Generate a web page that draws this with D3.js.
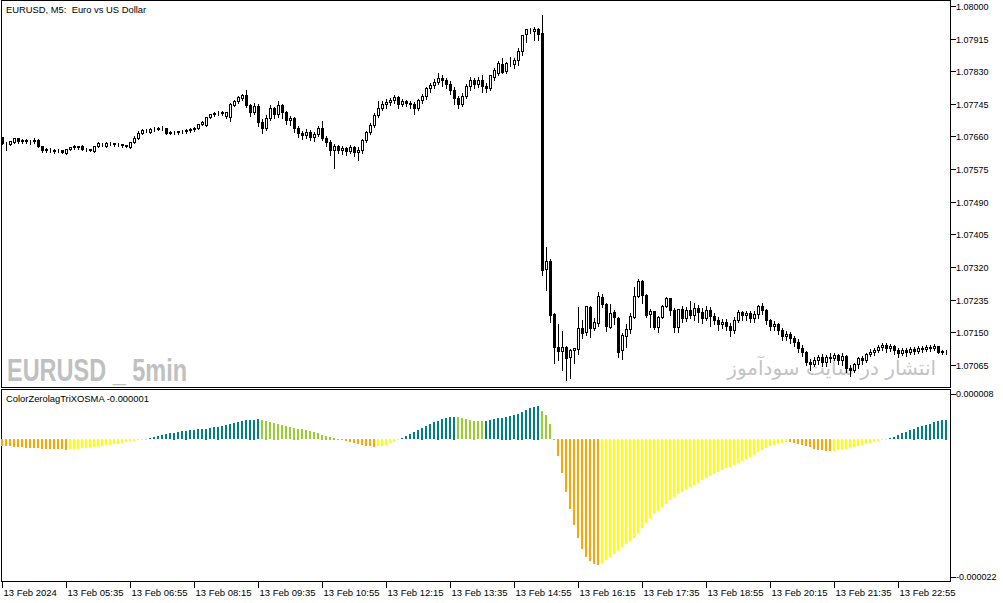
<!DOCTYPE html>
<html><head><meta charset="utf-8">
<script src="https://cdn.jsdelivr.net/npm/d3@7"></script>
<style>html,body{margin:0;padding:0;background:#fff;}svg{display:block;}</style>
</head><body>
<svg id="chart" width="1003" height="603"></svg>
<script>
// ---------------- DATA ----------------
const chartTitle = "EURUSD, M5:  Euro vs US Dollar";
const indicatorTitle = "ColorZerolagTriXOSMA -0.000001";
const watermarkLeft = "EURUSD _ 5min";
const watermarkRight = "انتشار در سایت سودآموز";
const xTickIndex = [0,16,32,48,64,80,96,112,128,144,160,176,192,208,224];
const xTickLabels = ["13 Feb 2024","13 Feb 05:35","13 Feb 06:55","13 Feb 08:15","13 Feb 09:35","13 Feb 10:55","13 Feb 12:15","13 Feb 13:35","13 Feb 14:55","13 Feb 16:15","13 Feb 17:35","13 Feb 18:55","13 Feb 20:15","13 Feb 21:35","13 Feb 22:55"];
const priceTicks = [1.08000,1.07915,1.07830,1.07745,1.07660,1.07575,1.07490,1.07405,1.07320,1.07235,1.07150,1.07065];
const indTickLabels = ["0.000008","-0.000022"];

const open = [
1.07659,1.07646,1.07641,1.07646,1.07656,1.07648,1.07651,1.07648,1.07648,1.07651,
1.07635,1.07628,1.07625,1.07622,1.07625,1.07625,1.07617,1.07628,1.07633,1.07634,
1.07635,1.07628,1.07628,1.07622,1.07635,1.07641,1.07635,1.07643,1.07642,1.07641,
1.07641,1.07638,1.07633,1.07646,1.07656,1.07669,1.07677,1.07672,1.07680,1.07680,
1.07682,1.07682,1.07669,1.07672,1.07672,1.07673,1.07674,1.07677,1.07680,1.07682,
1.07693,1.07690,1.07711,1.07719,1.07721,1.07721,1.07714,1.07711,1.07742,1.07753,
1.07760,1.07768,1.07742,1.07724,1.07740,1.07698,1.07682,1.07708,1.07734,1.07719,
1.07742,1.07724,1.07703,1.07708,1.07682,1.07669,1.07664,1.07672,1.07659,1.07667,
1.07682,1.07656,1.07646,1.07625,1.07635,1.07625,1.07630,1.07622,1.07633,1.07620,
1.07625,1.07651,1.07672,1.07690,1.07716,1.07734,1.07745,1.07750,1.07755,1.07763,
1.07745,1.07753,1.07747,1.07745,1.07734,1.07755,1.07766,1.07787,1.07794,1.07802,
1.07813,1.07807,1.07797,1.07781,1.07760,1.07745,1.07766,1.07792,1.07807,1.07797,
1.07807,1.07792,1.07787,1.07815,1.07826,1.07849,1.07831,1.07852,1.07849,1.07859,
1.07883,1.07927,1.07935,1.07935,1.07940,1.07930,1.07315,1.07336,1.07198,1.07112,
1.07102,1.07112,1.07086,1.07104,1.07107,1.07162,1.07151,1.07216,1.07162,1.07175,
1.07242,1.07224,1.07164,1.07203,1.07188,1.07104,1.07141,1.07159,1.07190,1.07245,
1.07284,1.07247,1.07198,1.07206,1.07164,1.07190,1.07219,1.07240,1.07208,1.07164,
1.07211,1.07188,1.07208,1.07195,1.07214,1.07203,1.07188,1.07208,1.07193,1.07182,
1.07172,1.07177,1.07167,1.07156,1.07182,1.07203,1.07195,1.07200,1.07188,1.07198,
1.07219,1.07208,1.07182,1.07167,1.07172,1.07156,1.07141,1.07146,1.07135,1.07125,
1.07109,1.07099,1.07073,1.07068,1.07078,1.07086,1.07073,1.07086,1.07083,1.07091,
1.07078,1.07089,1.07057,1.07052,1.07068,1.07083,1.07078,1.07094,1.07099,1.07104,
1.07112,1.07117,1.07109,1.07115,1.07104,1.07096,1.07104,1.07099,1.07107,1.07102,
1.07109,1.07107,1.07112,1.07109,1.07115,1.07098,1.07101];

const high = [
1.07661,1.07648,1.07651,1.07659,1.07659,1.07656,1.07656,1.07654,1.07659,1.07656,
1.07638,1.07633,1.07633,1.07630,1.07630,1.07628,1.07630,1.07635,1.07641,1.07638,
1.07641,1.07633,1.07630,1.07638,1.07648,1.07646,1.07648,1.07648,1.07646,1.07646,
1.07643,1.07641,1.07648,1.07664,1.07677,1.07682,1.07682,1.07685,1.07688,1.07688,
1.07690,1.07685,1.07677,1.07677,1.07677,1.07680,1.07682,1.07685,1.07688,1.07695,
1.07703,1.07714,1.07721,1.07727,1.07729,1.07729,1.07727,1.07750,1.07758,1.07768,
1.07773,1.07784,1.07747,1.07750,1.07747,1.07708,1.07719,1.07745,1.07740,1.07755,
1.07747,1.07729,1.07716,1.07714,1.07690,1.07677,1.07682,1.07680,1.07674,1.07690,
1.07703,1.07664,1.07654,1.07643,1.07641,1.07638,1.07635,1.07641,1.07638,1.07635,
1.07656,1.07677,1.07698,1.07724,1.07755,1.07755,1.07760,1.07763,1.07771,1.07768,
1.07760,1.07758,1.07755,1.07753,1.07760,1.07773,1.07792,1.07802,1.07813,1.07828,
1.07823,1.07815,1.07807,1.07792,1.07768,1.07776,1.07800,1.07818,1.07815,1.07818,
1.07823,1.07802,1.07823,1.07841,1.07859,1.07867,1.07857,1.07870,1.07867,1.07893,
1.07927,1.07943,1.07945,1.07948,1.07945,1.07979,1.07375,1.07344,1.07203,1.07175,
1.07156,1.07117,1.07109,1.07112,1.07219,1.07185,1.07221,1.07221,1.07190,1.07258,
1.07253,1.07229,1.07227,1.07211,1.07193,1.07151,1.07175,1.07203,1.07271,1.07292,
1.07289,1.07253,1.07214,1.07208,1.07195,1.07224,1.07245,1.07242,1.07216,1.07214,
1.07221,1.07219,1.07234,1.07229,1.07224,1.07216,1.07221,1.07219,1.07203,1.07193,
1.07188,1.07188,1.07177,1.07193,1.07211,1.07208,1.07208,1.07208,1.07208,1.07224,
1.07229,1.07214,1.07188,1.07182,1.07177,1.07164,1.07156,1.07154,1.07143,1.07135,
1.07120,1.07104,1.07083,1.07089,1.07094,1.07096,1.07094,1.07099,1.07099,1.07096,
1.07099,1.07094,1.07068,1.07073,1.07089,1.07091,1.07099,1.07109,1.07112,1.07120,
1.07125,1.07125,1.07122,1.07120,1.07112,1.07112,1.07112,1.07115,1.07115,1.07117,
1.07117,1.07120,1.07120,1.07122,1.07117,1.07106,1.07106];

const low = [
1.07641,1.07625,1.07638,1.07643,1.07643,1.07643,1.07643,1.07641,1.07643,1.07633,
1.07620,1.07620,1.07620,1.07617,1.07620,1.07617,1.07615,1.07625,1.07628,1.07628,
1.07625,1.07622,1.07622,1.07620,1.07633,1.07635,1.07633,1.07638,1.07635,1.07635,
1.07633,1.07633,1.07630,1.07643,1.07654,1.07667,1.07672,1.07669,1.07674,1.07677,
1.07677,1.07667,1.07667,1.07667,1.07667,1.07669,1.07669,1.07672,1.07674,1.07680,
1.07690,1.07688,1.07708,1.07714,1.07716,1.07716,1.07708,1.07701,1.07740,1.07747,
1.07755,1.07737,1.07714,1.07719,1.07688,1.07669,1.07677,1.07703,1.07708,1.07711,
1.07708,1.07693,1.07690,1.07672,1.07659,1.07654,1.07656,1.07651,1.07648,1.07661,
1.07651,1.07635,1.07612,1.07578,1.07617,1.07615,1.07612,1.07617,1.07609,1.07599,
1.07617,1.07646,1.07667,1.07685,1.07711,1.07729,1.07734,1.07742,1.07747,1.07734,
1.07740,1.07740,1.07734,1.07719,1.07729,1.07747,1.07758,1.07776,1.07787,1.07797,
1.07792,1.07787,1.07771,1.07745,1.07734,1.07740,1.07760,1.07781,1.07787,1.07789,
1.07776,1.07776,1.07781,1.07807,1.07820,1.07826,1.07826,1.07844,1.07839,1.07846,
1.07872,1.07906,1.07930,1.07911,1.07911,1.07300,1.07260,1.07177,1.07070,1.07078,
1.07052,1.07026,1.07031,1.07070,1.07094,1.07135,1.07143,1.07138,1.07156,1.07167,
1.07216,1.07154,1.07162,1.07172,1.07086,1.07081,1.07112,1.07148,1.07188,1.07242,
1.07227,1.07190,1.07164,1.07159,1.07151,1.07188,1.07216,1.07195,1.07151,1.07151,
1.07177,1.07180,1.07188,1.07182,1.07177,1.07175,1.07182,1.07167,1.07172,1.07156,
1.07162,1.07156,1.07141,1.07148,1.07177,1.07182,1.07182,1.07177,1.07177,1.07188,
1.07198,1.07172,1.07156,1.07156,1.07146,1.07130,1.07130,1.07122,1.07115,1.07099,
1.07089,1.07065,1.07052,1.07063,1.07068,1.07063,1.07063,1.07073,1.07078,1.07068,
1.07065,1.07047,1.07037,1.07047,1.07057,1.07068,1.07073,1.07089,1.07091,1.07099,
1.07104,1.07099,1.07102,1.07094,1.07086,1.07091,1.07089,1.07094,1.07094,1.07096,
1.07099,1.07102,1.07102,1.07104,1.07096,1.07093,1.07093];

const close = [
1.07643,1.07645,1.07648,1.07656,1.07648,1.07651,1.07648,1.07647,1.07651,1.07635,
1.07625,1.07625,1.07626,1.07626,1.07625,1.07620,1.07628,1.07633,1.07634,1.07633,
1.07628,1.07628,1.07625,1.07635,1.07642,1.07641,1.07643,1.07642,1.07641,1.07641,
1.07638,1.07635,1.07646,1.07656,1.07669,1.07677,1.07676,1.07680,1.07680,1.07682,
1.07681,1.07669,1.07672,1.07672,1.07673,1.07674,1.07677,1.07680,1.07682,1.07693,
1.07698,1.07711,1.07719,1.07721,1.07721,1.07724,1.07724,1.07745,1.07753,1.07763,
1.07768,1.07742,1.07724,1.07740,1.07698,1.07682,1.07708,1.07734,1.07719,1.07742,
1.07724,1.07703,1.07708,1.07682,1.07669,1.07664,1.07672,1.07659,1.07667,1.07682,
1.07656,1.07646,1.07625,1.07635,1.07625,1.07630,1.07622,1.07633,1.07620,1.07625,
1.07651,1.07672,1.07690,1.07716,1.07734,1.07745,1.07750,1.07755,1.07763,1.07745,
1.07753,1.07747,1.07745,1.07734,1.07755,1.07766,1.07787,1.07794,1.07802,1.07813,
1.07807,1.07797,1.07781,1.07760,1.07745,1.07766,1.07792,1.07807,1.07797,1.07807,
1.07792,1.07787,1.07820,1.07833,1.07852,1.07828,1.07852,1.07852,1.07859,1.07883,
1.07925,1.07940,1.07935,1.07940,1.07927,1.07313,1.07336,1.07195,1.07112,1.07102,
1.07112,1.07083,1.07104,1.07109,1.07162,1.07148,1.07219,1.07162,1.07177,1.07245,
1.07224,1.07167,1.07200,1.07190,1.07099,1.07143,1.07159,1.07193,1.07245,1.07284,
1.07247,1.07195,1.07206,1.07164,1.07190,1.07219,1.07240,1.07208,1.07164,1.07211,
1.07188,1.07208,1.07195,1.07214,1.07203,1.07188,1.07208,1.07193,1.07182,1.07172,
1.07177,1.07167,1.07156,1.07182,1.07203,1.07195,1.07200,1.07188,1.07198,1.07219,
1.07208,1.07182,1.07167,1.07172,1.07156,1.07141,1.07146,1.07135,1.07125,1.07109,
1.07099,1.07073,1.07068,1.07078,1.07086,1.07073,1.07086,1.07083,1.07091,1.07078,
1.07089,1.07057,1.07052,1.07068,1.07083,1.07078,1.07094,1.07099,1.07104,1.07112,
1.07117,1.07109,1.07115,1.07104,1.07096,1.07104,1.07099,1.07107,1.07102,1.07109,
1.07107,1.07112,1.07109,1.07115,1.07098,1.07101,1.07100];

// ColorZerolagTriXOSMA histogram, in millionths (x 0.000001)
const osmaMicro = [
-1.10,-1.15,-1.20,-1.25,-1.30,-1.35,-1.40,-1.45,-1.50,-1.55,
-1.60,-1.63,-1.66,-1.68,-1.70,-1.71,-1.72,-1.70,-1.65,-1.60,
-1.55,-1.48,-1.40,-1.32,-1.24,-1.15,-1.05,-0.95,-0.85,-0.74,
-0.63,-0.52,-0.40,-0.28,-0.17,-0.08,-0.02,0.22,0.33,0.54,
0.71,0.82,0.98,1.09,1.20,1.31,1.42,1.47,1.52,1.63,
1.69,1.74,1.85,1.96,2.07,2.18,2.29,2.45,2.61,2.83,
3.00,3.10,3.19,3.22,3.24,3.16,3.05,2.83,2.72,2.56,
2.29,2.18,2.01,1.90,1.74,1.60,1.45,1.30,1.12,0.95,
0.78,0.60,0.42,0.25,0.08,-0.10,-0.30,-0.50,-0.70,-0.88,
-1.02,-1.12,-1.20,-1.25,-1.22,-1.12,-0.95,-0.72,-0.45,-0.15,
0.15,0.50,0.85,1.20,1.55,1.90,2.20,2.50,2.80,3.05,
3.30,3.50,3.62,3.68,3.60,3.45,3.30,3.15,3.05,2.98,
2.95,3.00,3.10,3.25,3.40,3.55,3.70,3.85,4.00,4.20,
4.50,4.80,5.10,5.35,5.50,4.60,3.90,2.50,0.08,-2.70,
-5.60,-8.70,-11.40,-14.10,-16.20,-18.00,-19.20,-20.00,-20.45,-20.55,
-20.26,-19.84,-19.28,-18.79,-18.30,-17.71,-17.22,-16.73,-16.24,-15.42,
-14.60,-13.79,-13.07,-12.32,-11.83,-11.18,-10.69,-10.03,-9.54,-9.05,
-8.73,-8.17,-7.91,-7.52,-7.14,-6.70,-6.44,-6.11,-5.78,-5.46,
-5.13,-4.80,-4.53,-4.25,-3.92,-3.60,-3.25,-2.90,-2.55,-2.20,
-1.85,-1.50,-1.20,-0.95,-0.75,-0.60,-0.50,-0.55,-0.65,-0.80,
-0.98,-1.18,-1.38,-1.56,-1.72,-1.85,-1.94,-1.98,-1.95,-1.85,
-1.72,-1.58,-1.42,-1.26,-1.10,-0.94,-0.78,-0.62,-0.47,-0.32,
-0.18,-0.05,0.15,0.40,0.68,0.95,1.22,1.48,1.72,1.95,
2.17,2.38,2.58,2.76,2.93,3.08,3.20];

const histColors = {upRise:"#008080", upFall:"#9ACD32", dnFall:"#FFA500", dnRise:"#FFFF00"};

// ---------------- LAYOUT ----------------
const svg = d3.select("#chart");
const FONT = "'Liberation Sans', Arial, sans-serif";
const frameL = 1.5, frameR = 950.5;
const mainTop = 0.5, mainBot = 387.5, indTop = 389.5, indBot = 581.5;

const x = d3.scaleLinear().domain([0, 236]).range([2.5, 946.5]);
const yP = d3.scaleLinear().domain([1.07065, 1.08]).range([364.8, 6]);
const yI = d3.scaleLinear().domain([-22.5, 7.4]).range([577, 394]);

svg.append("rect").attr("width",1003).attr("height",603).attr("fill","#fff");

// watermarks (behind candles)
svg.append("text").attr("x",7).attr("y",381)
  .attr("font-family",FONT).attr("font-weight","bold").attr("font-size",31)
  .attr("fill","#c0c0c0").attr("textLength",180).attr("lengthAdjust","spacingAndGlyphs")
  .text(watermarkLeft);
svg.append("text").attr("x",936).attr("y",375).attr("text-anchor","end")
  .attr("font-family","'DejaVu Sans', sans-serif").attr("font-size",20)
  .attr("fill","#c4c4c4")
  .text(watermarkRight);

// frames
const g = svg.append("g").attr("shape-rendering","crispEdges");
g.append("rect").attr("x",frameL).attr("y",mainTop).attr("width",frameR-frameL).attr("height",mainBot-mainTop)
  .attr("fill","none").attr("stroke","#000");
g.append("rect").attr("x",frameL).attr("y",indTop).attr("width",frameR-frameL).attr("height",indBot-indTop)
  .attr("fill","none").attr("stroke","#000");

// candles
const px = v => Math.round(v) + 0.5;
const idx = d3.range(open.length);
const cg = g.append("g");
idx.forEach(i => {
  const cx = x(i);
  const hi = Math.max(high[i], open[i], close[i]);
  const lo = Math.min(low[i], open[i], close[i]);
  cg.append("line").attr("x1",cx).attr("x2",cx)
    .attr("y1",px(yP(hi))).attr("y2",px(yP(lo))).attr("stroke","#000");
  const yo = px(yP(open[i])), yc = px(yP(close[i]));
  const top = Math.min(yo,yc), h = Math.abs(yo-yc);
  const bull = close[i] >= open[i];
  cg.append("rect").attr("x",cx-1).attr("y",top).attr("width",2).attr("height",h)
    .attr("fill", bull ? "#fff" : "#000").attr("stroke","#000");
});

// indicator histogram
const hg = g.append("g");
const y0 = yI(0);
idx.forEach(i => {
  const v = osmaMicro[i], prev = i > 0 ? osmaMicro[i-1] : v;
  let col;
  if (v >= 0) col = (v > prev) ? histColors.upRise : histColors.upFall;
  else col = (v < prev || i === 0) ? histColors.dnFall : histColors.dnRise;
  const yv = yI(v);
  const top = Math.min(y0, yv), h = Math.max(1, Math.abs(yv - y0));
  hg.append("rect").attr("x", x(i)-1.5).attr("y", Math.round(top)).attr("width",2)
    .attr("height", Math.round(h)).attr("fill", col);
});

// titles
svg.append("text").attr("x",6).attr("y",13).attr("font-family",FONT).attr("font-size",9.4)
  .style("white-space","pre").attr("fill","#000").text(chartTitle);
svg.append("text").attr("x",6).attr("y",402).attr("font-family",FONT).attr("font-size",9.4)
  .attr("fill","#000").text(indicatorTitle);

// right price axis
priceTicks.forEach(p => {
  const yy = px(yP(p));
  g.append("line").attr("x1",frameR).attr("x2",frameR+5).attr("y1",yy).attr("y2",yy).attr("stroke","#000");
  svg.append("text").attr("x",956).attr("y",yy).attr("dy","0.35em")
    .attr("font-family",FONT).attr("font-size",9).attr("fill","#000").text(d3.format(".5f")(p));
});
// indicator axis labels at panel range ends
yI.range().slice().reverse().forEach((yy, k) => {
  g.append("line").attr("x1",frameR).attr("x2",frameR+5).attr("y1",px(yy)).attr("y2",px(yy)).attr("stroke","#000");
  svg.append("text").attr("x",956).attr("y",yy).attr("dy","0.35em")
    .attr("font-family",FONT).attr("font-size",9).attr("fill","#000").text(indTickLabels[k]);
});

// bottom time axis
xTickIndex.forEach((ti, k) => {
  const xx = px(x(ti) - 0.5);
  g.append("line").attr("x1",xx).attr("x2",xx).attr("y1",indBot).attr("y2",indBot+6).attr("stroke","#000");
  svg.append("text").attr("x",xx+1).attr("y",596).attr("font-family",FONT).attr("font-size",9.5)
    .attr("fill","#000").text(xTickLabels[k]);
});
</script>
</body></html>
